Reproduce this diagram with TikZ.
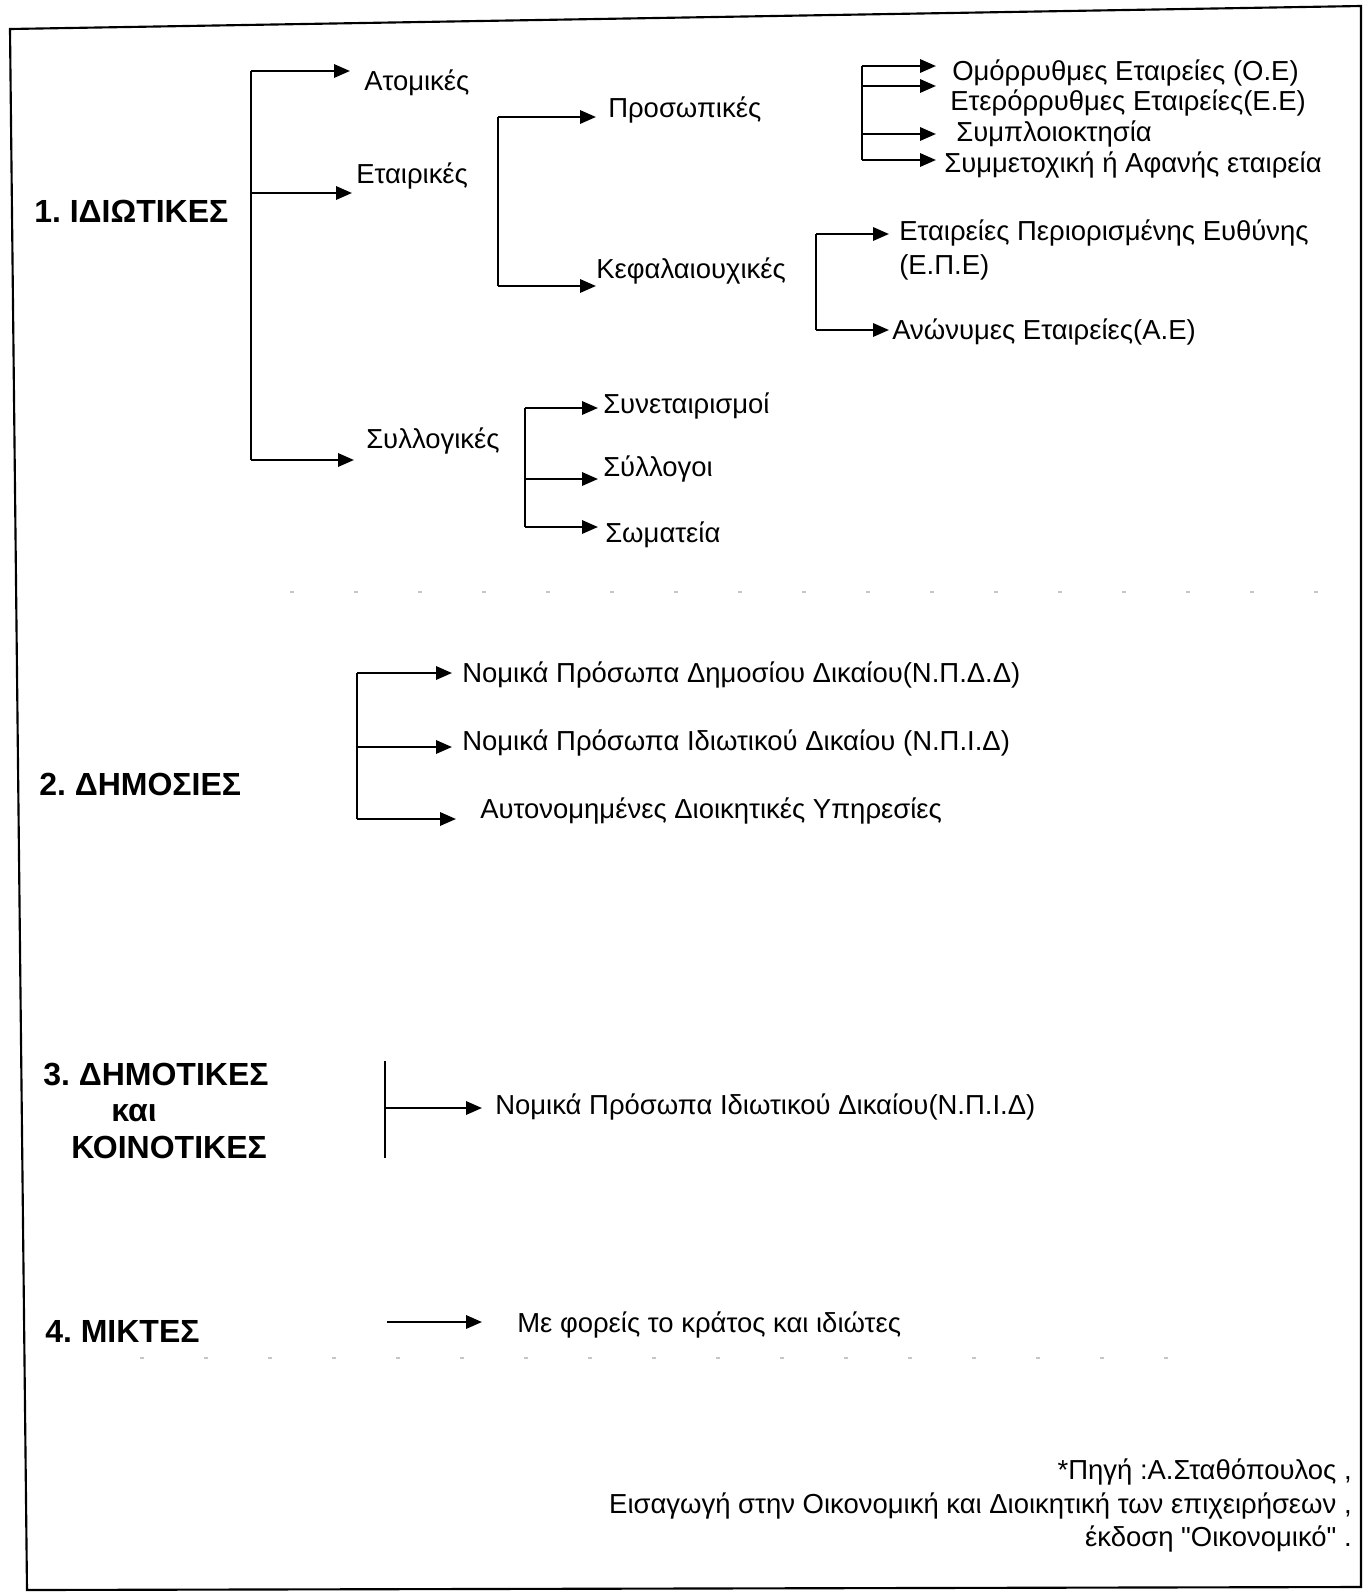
\documentclass[tikz,border=0pt]{standalone}
\usepackage{fontspec}
\setmainfont{Liberation Sans}
\usetikzlibrary{arrows.meta}
\newcommand\straightdq{\XeTeXglyph\XeTeXglyphindex "quotedbl" \relax}
\begin{document}
\frenchspacing
\begin{tikzpicture}[x=0.75pt,y=-0.75pt,
  lbl/.style={font=\fontsize{20.6}{25}\selectfont, anchor=mid west, inner sep=0pt},
  hd/.style={font=\fontsize{24}{28}\selectfont\bfseries, anchor=mid west, inner sep=0pt},
  ln/.style={line width=1.7pt},
  arr/.style={line width=1.7pt, -{Triangle[length=12pt,width=10pt]}},
  faint/.style={gray!45, line width=1pt, dash pattern=on 3pt off 45pt}
]
\useasboundingbox (0,0) rectangle (1363,1592);
\draw[line width=1.6pt] (10,29) -- (1361,6) -- (1361,1587) -- (27,1590) -- cycle;

% ---------- Section 1 ----------
\node[hd] (h1) at (34,219) {1. ΙΔΙΩΤΙΚΕΣ};
\node[lbl] (atom) at (364,87) {Ατομικές};
\node[lbl] (etair) at (356,180) {Εταιρικές};
\node[lbl] (syll) at (366,445) {Συλλογικές};
\node[lbl] (pros) at (608,114) {Προσωπικές};
\node[lbl] (kef) at (596,275) {Κεφαλαιουχικές};
\node[lbl] (oe) at (952,77) {Ομόρρυθμες Εταιρείες (Ο.Ε)};
\node[lbl] (ee) at (950,107) {Ετερόρρυθμες Εταιρείες(Ε.Ε)};
\node[lbl] (sympl) at (956,138) {Συμπλοιοκτησία};
\node[lbl] (symm) at (944,169) {Συμμετοχική ή Αφανής εταιρεία};
\node[lbl, align=left, anchor=north west] (epe) at (899,220) {Εταιρείες Περιορισμένης Ευθύνης\\(Ε.Π.Ε)};
\node[lbl] (ae) at (892,336) {Ανώνυμες Εταιρείες(Α.Ε)};
\node[lbl] (synet) at (603,410) {Συνεταιρισμοί};
\node[lbl] (syllogoi) at (603,473) {Σύλλογοι};
\node[lbl] (somat) at (605,539) {Σωματεία};

\coordinate (s1t) at (251,71);
\coordinate (s1b) at (251,460);
\coordinate (tAtom) at (350,71);
\coordinate (tEtair) at (352,193);
\coordinate (tSyll) at (354,460);
\draw[ln] (s1t) -- (s1b);
\draw[arr] (s1t) -- (tAtom);
\draw[arr] (s1t |- tEtair) -- (tEtair);
\draw[arr] (s1b) -- (tSyll);

\coordinate (s2t) at (498,117);
\coordinate (s2b) at (498,286);
\coordinate (tPros) at (596,117);
\coordinate (tKef) at (596,286);
\draw[ln] (s2t) -- (s2b);
\draw[arr] (s2t) -- (tPros);
\draw[arr] (s2b) -- (tKef);

\coordinate (s3t) at (862,66);
\coordinate (s3b) at (862,160);
\coordinate (tOE) at (936,66);
\coordinate (tEE) at (936,86);
\coordinate (tSympl) at (936,134);
\coordinate (tSymm) at (936,160);
\draw[ln] (s3t) -- (s3b);
\draw[arr] (s3t) -- (tOE);
\draw[arr] (s3t |- tEE) -- (tEE);
\draw[arr] (s3t |- tSympl) -- (tSympl);
\draw[arr] (s3b) -- (tSymm);

\coordinate (s4t) at (816,234);
\coordinate (s4b) at (816,330);
\coordinate (tEPE) at (889,234);
\coordinate (tAE) at (889,330);
\draw[ln] (s4t) -- (s4b);
\draw[arr] (s4t) -- (tEPE);
\draw[arr] (s4b) -- (tAE);

\coordinate (s5t) at (525,408);
\coordinate (s5b) at (525,527);
\coordinate (tSynet) at (598,408);
\coordinate (tSyllogoi) at (598,479);
\coordinate (tSomat) at (598,527);
\draw[ln] (s5t) -- (s5b);
\draw[arr] (s5t) -- (tSynet);
\draw[arr] (s5t |- tSyllogoi) -- (tSyllogoi);
\draw[arr] (s5b) -- (tSomat);

\draw[faint] (290,592) -- (1345,592);

% ---------- Section 2 ----------
\node[hd] (h2) at (39,792) {2. ΔΗΜΟΣΙΕΣ};
\node[lbl] (npdd) at (462,679) {Νομικά Πρόσωπα Δημοσίου Δικαίου(Ν.Π.Δ.Δ)};
\node[lbl] (npid) at (462,747) {Νομικά Πρόσωπα Ιδιωτικού Δικαίου (Ν.Π.Ι.Δ)};
\node[lbl] (ady) at (480,815) {Αυτονομημένες Διοικητικές Υπηρεσίες};
\coordinate (s6t) at (357,673);
\coordinate (s6b) at (357,819);
\coordinate (tNPDD) at (452,673);
\coordinate (tNPID) at (452,747);
\coordinate (tADY) at (456,819);
\draw[ln] (s6t) -- (s6b);
\draw[arr] (s6t) -- (tNPDD);
\draw[arr] (s6t |- tNPID) -- (tNPID);
\draw[arr] (s6b) -- (tADY);

% ---------- Section 3 ----------
\node[hd] (h3a) at (43,1082) {3. ΔΗΜΟΤΙΚΕΣ};
\node[hd, anchor=mid] (h3b) at (134,1118) {και};
\node[hd] (h3c) at (71,1155) {ΚΟΙΝΟΤΙΚΕΣ};
\node[lbl] (npid3) at (495,1111) {Νομικά Πρόσωπα Ιδιωτικού Δικαίου(Ν.Π.Ι.Δ)};
\coordinate (s7t) at (385,1061);
\coordinate (s7b) at (385,1158);
\coordinate (s7m) at (385,1108);
\coordinate (tNPID3) at (482,1108);
\draw[ln] (s7t) -- (s7b);
\draw[arr] (s7m) -- (tNPID3);

% ---------- Section 4 ----------
\node[hd] (h4) at (45,1339) {4. ΜΙΚΤΕΣ};
\node[lbl] (mikt) at (517,1329) {Με φορείς το κράτος και ιδιώτες};
\coordinate (s8) at (387,1322);
\coordinate (tMikt) at (482,1322);
\draw[arr] (s8) -- (tMikt);

\draw[faint] (140,1358) -- (1220,1358);

% ---------- Source ----------
\node[lbl, align=right, anchor=north east] (src) at (1352,1459)
  {*Πηγή :Α.Σταθόπουλος ,\\Εισαγωγή στην Οικονομική και Διοικητική των επιχειρήσεων ,\\έκδοση \straightdq Οικονομικό\straightdq\ .};
\end{tikzpicture}
\end{document}
